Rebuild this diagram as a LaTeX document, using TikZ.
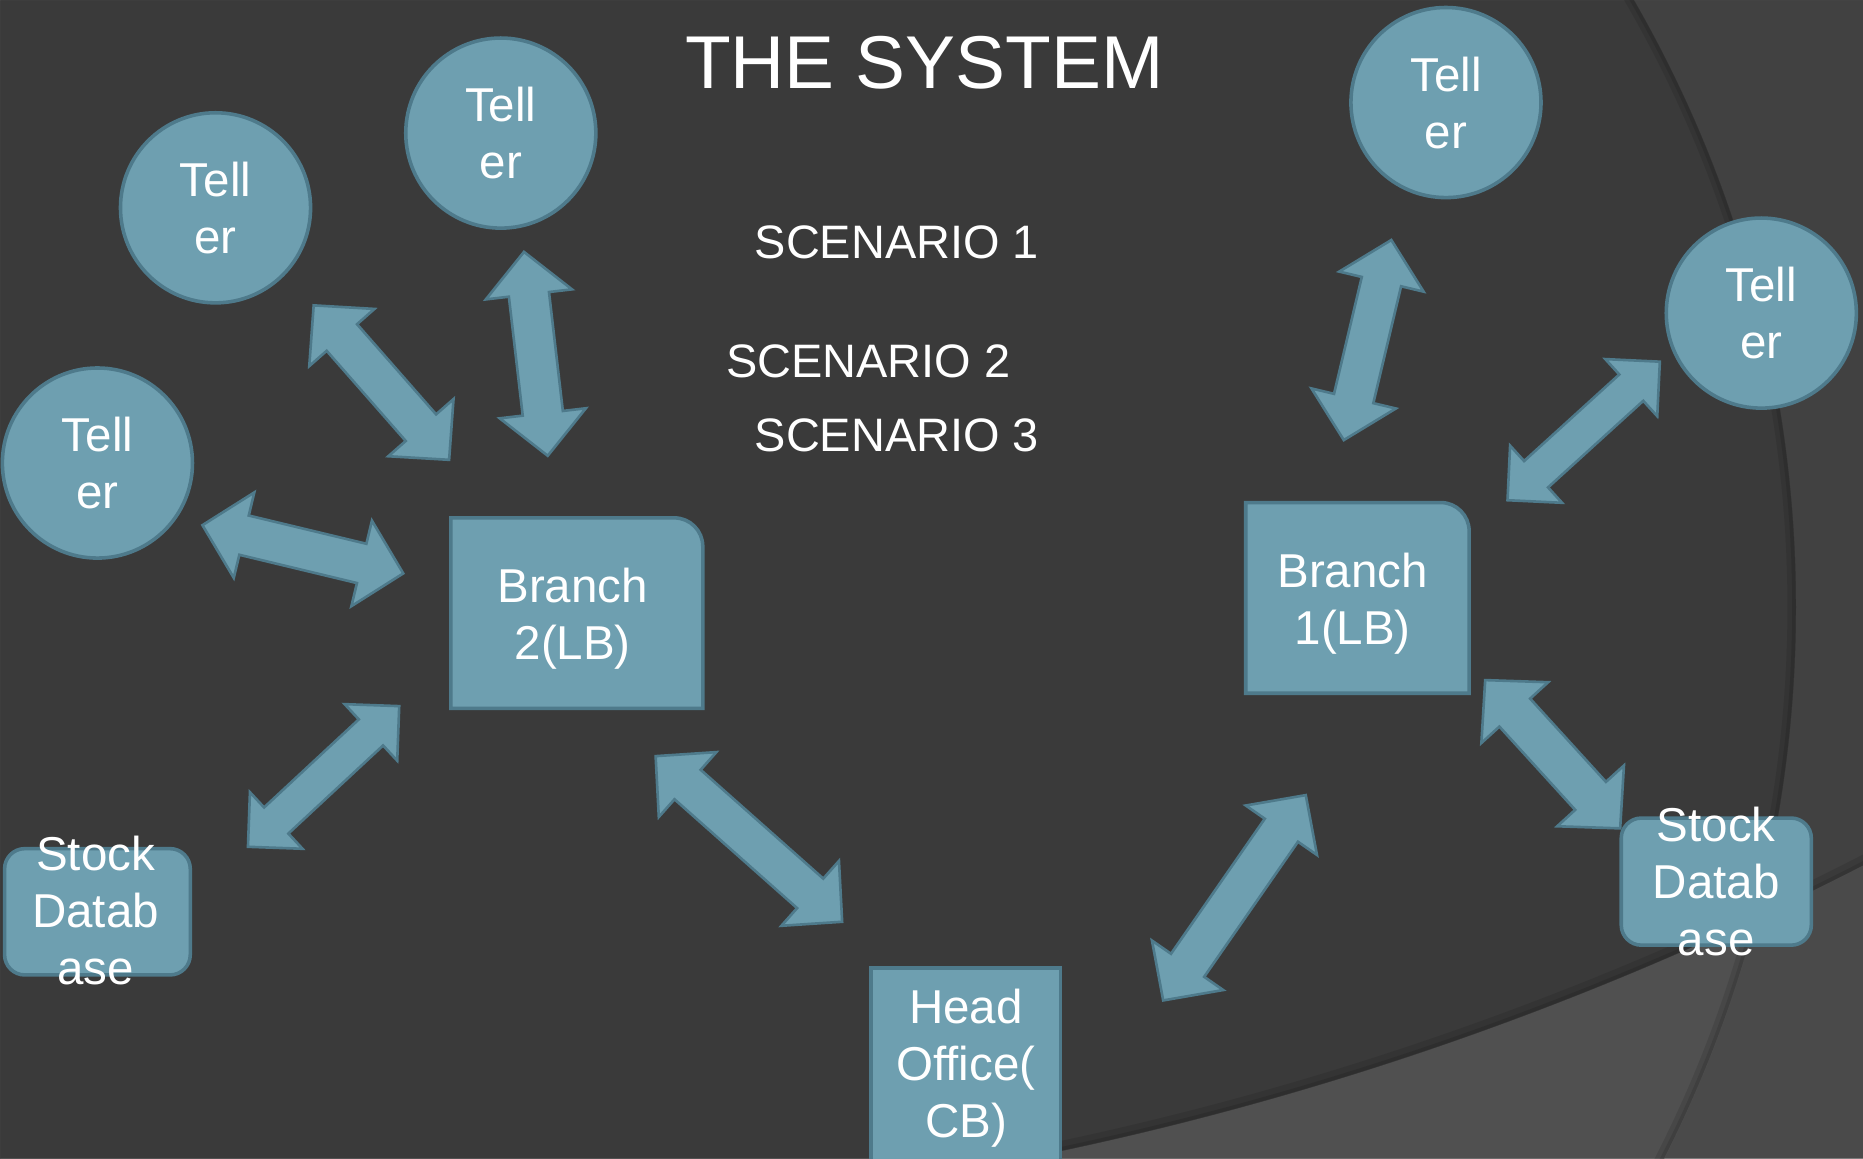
\documentclass[tikz,border=0pt]{standalone}
\usepackage{fontspec}
\setmainfont{Liberation Sans}
\usetikzlibrary{calc}
\definecolor{bgdark}{HTML}{3A3A3A}
\definecolor{bgright}{HTML}{414141}
\definecolor{bglow}{HTML}{505050}
\definecolor{bglowright}{HTML}{4A4A4A}
\definecolor{boxfill}{HTML}{6E9FB0}
\definecolor{boxline}{HTML}{4E7A8B}
\newcommand{\nodefont}{\fontsize{40}{48}\selectfont}
% #1,#2 tips; #3 head length; #4 head half width; #5 shaft half width
\newcommand{\dblarr}[5]{%
  \coordinate (hA) at ($(#1)!#3!(#2)$);
  \coordinate (hB) at ($(#2)!#3!(#1)$);
  \draw[blockarrow] (#1) -- ($(hA)!#4!90:(#2)$) -- ($(hA)!#5!90:(#2)$)
    -- ($(hB)!#5!90:(#2)$) -- ($(hB)!#4!90:(#2)$) -- (#2)
    -- ($(hB)!#4!-90:(#2)$) -- ($(hB)!#5!-90:(#2)$)
    -- ($(hA)!#5!-90:(#2)$) -- ($(hA)!#4!-90:(#2)$) -- cycle;
}
\begin{document}
\begin{tikzpicture}[x=1pt,y=-1pt,
  teller/.style={circle, draw=boxline, fill=boxfill, line width=3pt, minimum size=160pt,
    inner sep=0pt, outer sep=0pt, text=white, font=\nodefont, align=center},
  shapebox/.style={draw=boxline, fill=boxfill, line width=3pt, line join=miter},
  holder/.style={rectangle, inner sep=0pt, outer sep=0pt},
  lbl/.style={text=white, font=\nodefont, align=center, inner sep=0pt},
  blockarrow/.style={draw=boxline, fill=boxfill, line width=2.2pt, line join=miter},
  scen/.style={text=white, font=\fontsize{39.5}{47}\selectfont, anchor=base west, inner sep=0pt},
  softshade/.style={black, opacity=0.10}]
\useasboundingbox (0,0) rectangle (1568,975);
\clip (0,0) rectangle (1568,975);
% background
\fill[bgdark] (0,0) rectangle (1568,975);
\fill[bgright, even odd rule] (0,0) rectangle (1568,975) (487.4,511) circle[radius=1024.4pt];
\fill[bglow, even odd rule] (0,0) rectangle (1568,975) (324,-1698.6) circle[radius=2727pt];
\begin{scope}[even odd rule]
  \clip (0,0) rectangle (1568,975) (324,-1698.6) circle[radius=2727pt];
  \fill[bglowright] (0,0) rectangle (1568,975) (487.4,511) circle[radius=1024.4pt];
\end{scope}
% soft shadows along the arcs
\draw[softshade, line width=3pt] (487.4,511) circle[radius=1022.5pt];
\draw[softshade, line width=7pt] (487.4,511) circle[radius=1020.5pt];
\draw[softshade, line width=3pt] (324,-1698.6) circle[radius=2725pt];
\draw[softshade, line width=8pt] (324,-1698.6) circle[radius=2722.5pt];

% title and scenarios
\node[anchor=base west, font=\fontsize{63}{75}\selectfont, text=white, inner sep=0pt] (title) at (576.5,74.9) {THE SYSTEM};
\node[scen] (sc1) at (635,217.4) {SCENARIO 1};
\node[scen] (sc2) at (611,317.6) {SCENARIO 2};
\node[scen] (sc3) at (635,380.2) {SCENARIO 3};

% tellers
\node[teller] (t1) at (181.4,174.9) {Tell\\er};
\node[teller] (t2) at (421.5,112) {Tell\\er};
\node[teller] (t3) at (82,389.7) {Tell\\er};
\node[teller] (t4) at (1217,86.3) {Tell\\er};
\node[teller] (t5) at (1482.4,263.5) {Tell\\er};

% branch 2
\node[holder, minimum width=212pt, minimum height=160.3pt] (b2) at (485.5,516) {};
\draw[shapebox] (b2.south west) -- (b2.north west) -- ($(b2.north east)+(-24,0)$)
  .. controls ($(b2.north east)+(-10.75,0)$) and ($(b2.north east)+(0,10.75)$) .. ($(b2.north east)+(0,24)$)
  -- (b2.south east) -- cycle;
\node[lbl] (b2t) at (482,520.4) {Branch\\2(LB)};

% branch 1
\node[holder, minimum width=188pt, minimum height=160.5pt] (b1) at (1142.5,503.2) {};
\draw[shapebox] (b1.south west) -- (b1.north west) -- ($(b1.north east)+(-24,0)$)
  .. controls ($(b1.north east)+(-10.75,0)$) and ($(b1.north east)+(0,10.75)$) .. ($(b1.north east)+(0,24)$)
  -- (b1.south east) -- cycle;
\node[lbl] (b1t) at (1138.5,508.3) {Branch\\1(LB)};

% head office
\node[holder, shapebox, minimum width=159.5pt, minimum height=175.5pt] (ho) at (812.8,902.3) {};
\node[lbl] (hot) at (813,899.3) {Head\\Office(\\CB)};

% stock databases
\node[holder, shapebox, rounded corners=17pt, minimum width=156.3pt, minimum height=106.3pt] (s1) at (82,767.4) {};
\node[lbl] (s1t) at (80.5,766.7) {Stock\\Datab\\ase};
\node[holder, shapebox, rounded corners=17pt, minimum width=160pt, minimum height=107pt] (s2) at (1444.5,742) {};
\node[lbl] (s2t) at (1444.5,742.2) {Stock\\Datab\\ase};

% arrow tips
\coordinate (a1a) at (264,257);     \coordinate (a1b) at (378,387);
\coordinate (a2a) at (441,212);     \coordinate (a2b) at (461,383.6);
\coordinate (a3a) at (170.4,442);   \coordinate (a3b) at (339.4,482.6);
\coordinate (a4a) at (336,594.3);   \coordinate (a4b) at (208.7,712.7);
\coordinate (a5a) at (551.8,636.4); \coordinate (a5b) at (708.8,775.8);
\coordinate (a6a) at (1099,669.2);  \coordinate (a6b) at (979,842);
\coordinate (a7a) at (1171,202);    \coordinate (a7b) at (1131,370.4);
\coordinate (a8a) at (1397,304.4);  \coordinate (a8b) at (1268.8,421);
\coordinate (a9a) at (1250,572.4);  \coordinate (a9b) at (1363.6,697.2);

\dblarr{a1a}{a1b}{36pt}{36.5pt}{17pt}
\dblarr{a2a}{a2b}{36pt}{36.5pt}{17pt}
\dblarr{a3a}{a3b}{36pt}{37pt}{17pt}
\dblarr{a4a}{a4b}{32.5pt}{32.5pt}{15pt}
\dblarr{a5a}{a5b}{36pt}{36.5pt}{16.6pt}
\dblarr{a6a}{a6b}{36pt}{36.5pt}{17pt}
\dblarr{a7a}{a7b}{36pt}{36.5pt}{17pt}
\dblarr{a8a}{a8b}{32.5pt}{32.5pt}{15pt}
\dblarr{a9a}{a9b}{37pt}{38pt}{17.5pt}
\end{tikzpicture}
\end{document}
